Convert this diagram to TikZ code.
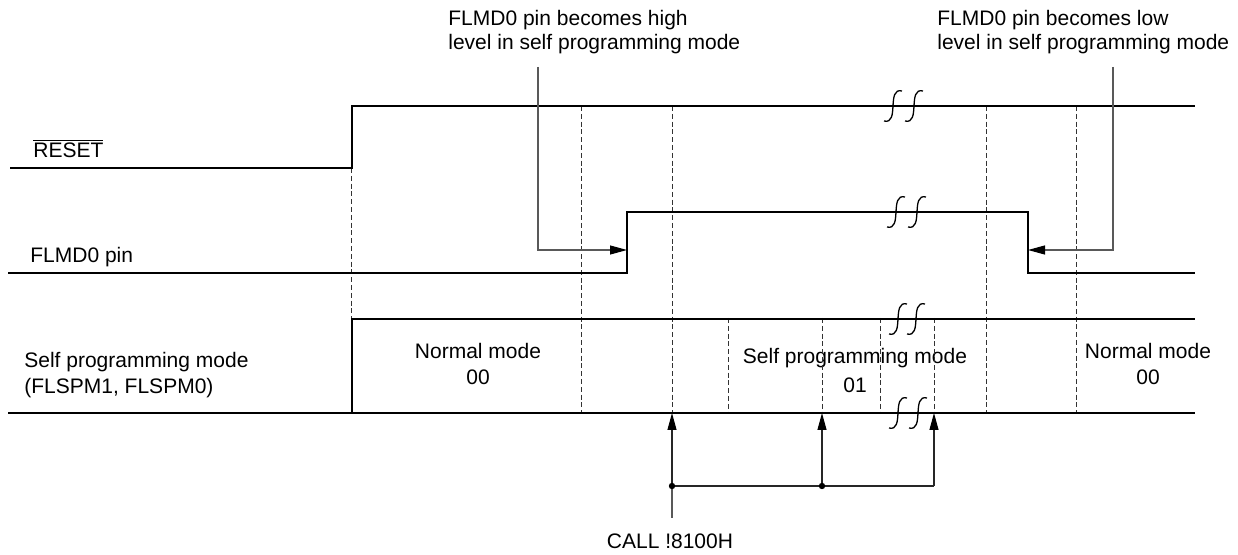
\documentclass[tikz,border=0pt]{standalone}
\usepackage{fontspec}
\setmainfont{Liberation Sans}
\usetikzlibrary{arrows.meta}
\tikzset{
  sig/.style={line width=1.3pt, line join=miter},
  guide/.style={line width=0.5pt, dash pattern=on 2.5pt off 1.4pt, black!80},
  note/.style={line width=0.55pt, black!65},
  call/.style={line width=0.55pt, black!85},
  tipped/.style={-{Triangle[length=8.5pt,width=4.5pt,black]}},
  lbl/.style={inner sep=0pt, font=\fontsize{10.5}{13}\selectfont},
  brk/.pic={\draw[line width=0.65pt, black] (9,-15) .. controls (-7,-19) and (7,19) .. (-9,15);}
}
\begin{document}
\begin{tikzpicture}[x=0.5pt, y=-0.5pt]
\useasboundingbox (0,0) rectangle (1238,555);

% ---- text labels ----
\node[lbl, anchor=base west] (rst) at (33,158) {\ensuremath{\overline{\mbox{RESET}}}};
\node[lbl, anchor=base west] (flmd) at (30,263) {FLMD0 pin};
\node[lbl, anchor=north west, align=left] (spm) at (24,352) {Self programming mode\\(FLSPM1, FLSPM0)};
\node[lbl, anchor=north west, align=left, font=\fontsize{10.5}{11.75}\selectfont] (nhi) at (448,10) {FLMD0 pin becomes high\\level in self programming mode};
\node[lbl, anchor=north west, align=left, font=\fontsize{10.5}{11.75}\selectfont] (nlo) at (937,10) {FLMD0 pin becomes low\\level in self programming mode};
\node[lbl, anchor=north, align=center] (nm1) at (478,343) {Normal mode\\00};
\node[lbl, anchor=north, align=center, font=\fontsize{10.5}{14.5}\selectfont] (sp) at (855,348) {Self programming mode\\01};
\node[lbl, anchor=north, align=center] (nm2) at (1148,343) {Normal mode\\00};
\node[lbl, anchor=base] (call) at (670,549) {CALL !8100H};

% ---- guide (dashed) lines ----
\draw[guide] (351,168) -- (351,318);
\foreach \x in {581,672,986,1076} \draw[guide] (\x,106) -- (\x,413);
\foreach \x in {728,822,880,934} \draw[guide] (\x,318) -- (\x,413);

% ---- signals ----
\draw[sig] (10,168) -- (352,168) -- (352,106) -- (1195,106);
\draw[sig] (8,273) -- (627,273) -- (627,212) -- (1028,212) -- (1028,273) -- (1195,273);
\draw[sig] (352,413) -- (352,319) -- (1195,319);
\draw[sig] (8,413) -- (1195,413);

% ---- break marks ----
\pic at (893,106) {brk}; \pic at (914,106) {brk};
\pic at (896,212) {brk}; \pic at (917,212) {brk};
\pic at (898,319) {brk}; \pic at (916,319) {brk};
\pic at (898,413) {brk}; \pic at (918,413) {brk};

% ---- annotation arrows ----
\coordinate (a1) at (538,67);
\coordinate (rise) at (627,250);
\coordinate (a2) at (1113,67);
\coordinate (fall) at (1028,250);
\draw[note, tipped] (a1) |- (rise);
\draw[note, tipped] (a2) |- (fall);

% ---- CALL arrows ----
\coordinate (c0) at (672,518);
\coordinate (d1) at (672,486);
\coordinate (d2) at (822,486);
\coordinate (d3) at (934,486);
\coordinate (t1) at (672,413);
\coordinate (t2) at (822,413);
\coordinate (t3) at (934,413);
\draw[note] (c0) -- (d1);
\draw[call] (d1) -- (d2) -- (d3);
\draw[call, tipped] (d1) -- (t1);
\draw[call, tipped] (d2) -- (t2);
\draw[call, tipped] (d3) -- (t3);
\fill (d1) circle (1.6pt);
\fill (d2) circle (1.6pt);
\end{tikzpicture}
\end{document}
